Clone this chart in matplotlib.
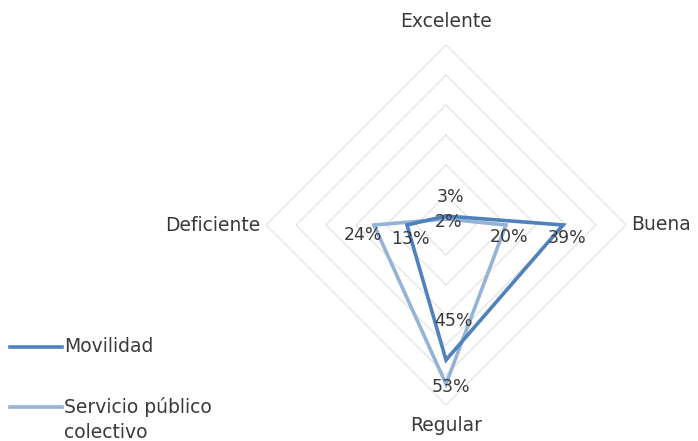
import matplotlib
matplotlib.use('Agg')
import matplotlib.pyplot as plt
import numpy as np

categories = ['Excelente', 'Buena', 'Regular', 'Deficiente']
movilidad = [0.03, 0.39, 0.45, 0.13]
servicio = [0.02, 0.20, 0.53, 0.24]
labels_mov = ['3%', '39%', '45%', '13%']
labels_serv = ['2%', '20%', '53%', '24%']
rings = [0.1, 0.2, 0.3, 0.4, 0.5, 0.6]

col_mov = '#4F81BD'
col_serv = '#95B3D7'
txt = '#3A3A3A'
plt.rcParams['font.family'] = ['DejaVu Sans']

fig = plt.figure(figsize=(6.98, 4.41), dpi=100)
ax = fig.add_axes([266 / 698, 36 / 441, 360 / 698, 360 / 441])
ax.set_xlim(-0.6, 0.6)
ax.set_ylim(-0.6, 0.6)
ax.axis('off')

# angles: top, right, bottom, left (clockwise)
theta = np.arange(len(categories)) * 2 * np.pi / len(categories)


def xy(vals):
    v = np.asarray(vals)
    return v * np.sin(theta), v * np.cos(theta)


# diamond grid
for r in rings:
    gx, gy = xy([r] * 4)
    ax.plot(np.append(gx, gx[0]), np.append(gy, gy[0]), color='#E0E0E0', lw=0.8, zorder=1)

# series
mx, my = xy(movilidad)
sx, sy = xy(servicio)
ax.plot(np.append(mx, mx[0]), np.append(my, my[0]), color=col_mov, lw=2.6,
        solid_joinstyle='miter', zorder=3, clip_on=False)
ax.plot(np.append(sx, sx[0]), np.append(sy, sy[0]), color=col_serv, lw=2.6,
        solid_joinstyle='miter', zorder=2, clip_on=False)

# data labels (offsets in pixels)
off_mov = [(4, 19), (4, -13), (7, 39), (3, -14)]
off_serv = [(3, -3), (3, -12), (5, -3), (-11, -10)]
for x, y, t, o in zip(mx, my, labels_mov, off_mov):
    ax.annotate(t, (x, y), xytext=o, textcoords='offset pixels', ha='center',
                va='center', fontsize=12.5, color=txt, zorder=4)
for x, y, t, o in zip(sx, sy, labels_serv, off_serv):
    ax.annotate(t, (x, y), xytext=o, textcoords='offset pixels', ha='center',
                va='center', fontsize=12.5, color=txt, zorder=4)

# category labels
cx, cy = xy([0.6] * 4)
fs = 13.5
ax.text(cx[0], cy[0] + 0.077, categories[0], ha='center', va='center', fontsize=fs, color=txt)
ax.text(cx[1] + 0.018, cy[1], categories[1], ha='left', va='center', fontsize=fs, color=txt)
ax.text(cx[2], cy[2] - 0.067, categories[2], ha='center', va='center', fontsize=fs, color=txt)
ax.text(cx[3] - 0.018, cy[3], categories[3], ha='right', va='center', fontsize=fs, color=txt)

# legend
fig.add_artist(plt.Line2D([10 / 698, 62 / 698], [1 - 347 / 441] * 2, color=col_mov, lw=2.6))
fig.add_artist(plt.Line2D([10 / 698, 62 / 698], [1 - 407 / 441] * 2, color=col_serv, lw=2.6))
fig.text(64 / 698, 1 - 347 / 441, 'Movilidad', ha='left', va='center', fontsize=fs, color=txt)
fig.text(64 / 698, 1 - 407 / 441, 'Servicio público', ha='left', va='center', fontsize=fs, color=txt)
fig.text(64 / 698, 1 - 432 / 441, 'colectivo', ha='left', va='center', fontsize=fs, color=txt)

fig.savefig('out.png', dpi=100)
